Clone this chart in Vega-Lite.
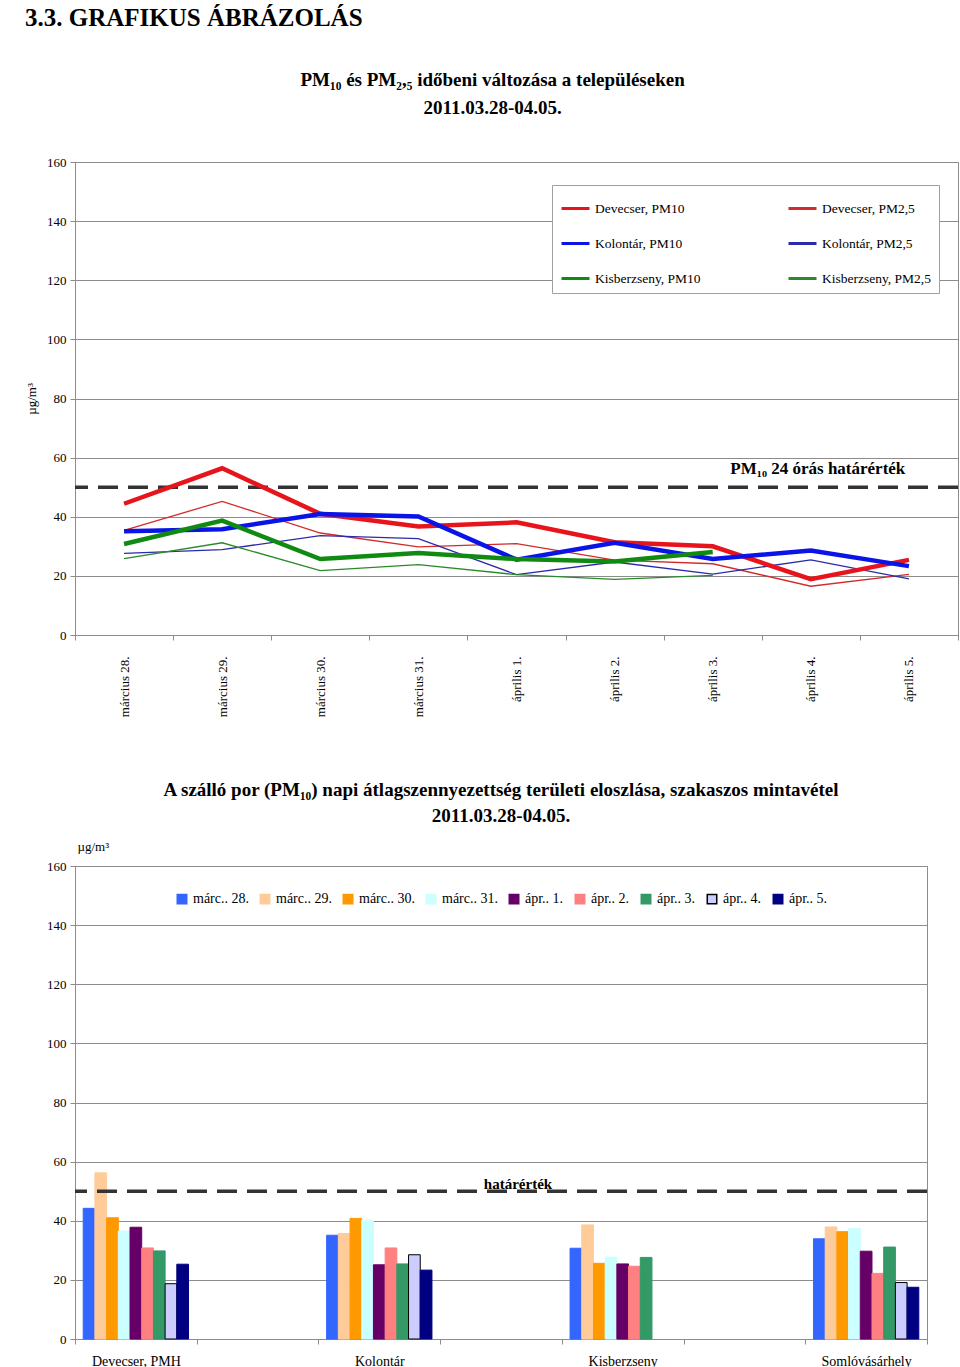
{
  "$schema": "https://vega.github.io/schema/vega-lite/v6.json",
  "background": "white",
  "padding": {"left": 25, "top": 5, "right": 0, "bottom": 0},
  "title": {"text": "3.3. GRAFIKUS ÁBRÁZOLÁS", "anchor": "start", "fontSize": 25, "fontWeight": "bold", "font": "Liberation Serif", "color": "black", "offset": 40},
  "config": {
    "view": {"stroke": "#8c8c8c"},
    "axis": {"labelFont": "Liberation Serif", "titleFont": "Liberation Serif", "labelColor": "black", "titleColor": "black", "labelFontSize": 13, "titleFontSize": 13, "titleFontWeight": "normal", "domainColor": "#8c8c8c", "tickColor": "#8c8c8c", "gridColor": "#8c8c8c", "tickSize": 5},
    "legend": {"labelFont": "Liberation Serif", "labelColor": "black"},
    "text": {"font": "Liberation Serif", "color": "black"},
    "title": {"font": "Liberation Serif", "color": "black"}
  },
  "datasets": {
    "lines": [
      {"series": "Devecser, PM10", "day": "március 28.", "value": 44.4},
      {"series": "Devecser, PM10", "day": "március 29.", "value": 56.4},
      {"series": "Devecser, PM10", "day": "március 30.", "value": 41.0},
      {"series": "Devecser, PM10", "day": "március 31.", "value": 36.7},
      {"series": "Devecser, PM10", "day": "április 1.", "value": 38.1},
      {"series": "Devecser, PM10", "day": "április 2.", "value": 31.4},
      {"series": "Devecser, PM10", "day": "április 3.", "value": 30.0},
      {"series": "Devecser, PM10", "day": "április 4.", "value": 18.9},
      {"series": "Devecser, PM10", "day": "április 5.", "value": 25.4},
      {"series": "Kolontár, PM10", "day": "március 28.", "value": 35.1},
      {"series": "Kolontár, PM10", "day": "március 29.", "value": 35.8},
      {"series": "Kolontár, PM10", "day": "március 30.", "value": 40.9},
      {"series": "Kolontár, PM10", "day": "március 31.", "value": 40.1},
      {"series": "Kolontár, PM10", "day": "április 1.", "value": 25.5},
      {"series": "Kolontár, PM10", "day": "április 2.", "value": 31.2},
      {"series": "Kolontár, PM10", "day": "április 3.", "value": 25.7},
      {"series": "Kolontár, PM10", "day": "április 4.", "value": 28.6},
      {"series": "Kolontár, PM10", "day": "április 5.", "value": 23.3},
      {"series": "Kisberzseny, PM10", "day": "március 28.", "value": 30.8},
      {"series": "Kisberzseny, PM10", "day": "március 29.", "value": 38.7},
      {"series": "Kisberzseny, PM10", "day": "március 30.", "value": 25.7},
      {"series": "Kisberzseny, PM10", "day": "március 31.", "value": 27.7},
      {"series": "Kisberzseny, PM10", "day": "április 1.", "value": 25.7},
      {"series": "Kisberzseny, PM10", "day": "április 2.", "value": 24.9},
      {"series": "Kisberzseny, PM10", "day": "április 3.", "value": 28.1},
      {"series": "Devecser, PM2,5", "day": "március 28.", "value": 35.4},
      {"series": "Devecser, PM2,5", "day": "március 29.", "value": 45.2},
      {"series": "Devecser, PM2,5", "day": "március 30.", "value": 34.5},
      {"series": "Devecser, PM2,5", "day": "március 31.", "value": 29.8},
      {"series": "Devecser, PM2,5", "day": "április 1.", "value": 30.9},
      {"series": "Devecser, PM2,5", "day": "április 2.", "value": 25.3},
      {"series": "Devecser, PM2,5", "day": "április 3.", "value": 24.1},
      {"series": "Devecser, PM2,5", "day": "április 4.", "value": 16.5},
      {"series": "Devecser, PM2,5", "day": "április 5.", "value": 20.5},
      {"series": "Kolontár, PM2,5", "day": "március 28.", "value": 27.6},
      {"series": "Kolontár, PM2,5", "day": "március 29.", "value": 28.9},
      {"series": "Kolontár, PM2,5", "day": "március 30.", "value": 33.6},
      {"series": "Kolontár, PM2,5", "day": "március 31.", "value": 32.6},
      {"series": "Kolontár, PM2,5", "day": "április 1.", "value": 20.4},
      {"series": "Kolontár, PM2,5", "day": "április 2.", "value": 24.7},
      {"series": "Kolontár, PM2,5", "day": "április 3.", "value": 20.6},
      {"series": "Kolontár, PM2,5", "day": "április 4.", "value": 25.4},
      {"series": "Kolontár, PM2,5", "day": "április 5.", "value": 19.0},
      {"series": "Kisberzseny, PM2,5", "day": "március 28.", "value": 25.8},
      {"series": "Kisberzseny, PM2,5", "day": "március 29.", "value": 31.2},
      {"series": "Kisberzseny, PM2,5", "day": "március 30.", "value": 21.8},
      {"series": "Kisberzseny, PM2,5", "day": "március 31.", "value": 23.8},
      {"series": "Kisberzseny, PM2,5", "day": "április 1.", "value": 20.4},
      {"series": "Kisberzseny, PM2,5", "day": "április 2.", "value": 18.8},
      {"series": "Kisberzseny, PM2,5", "day": "április 3.", "value": 20.2}
    ],
    "bars": [
      {"site": "Devecser, PMH", "day": "márc.. 28.", "value": 44.2},
      {"site": "Devecser, PMH", "day": "márc.. 29.", "value": 56.2},
      {"site": "Devecser, PMH", "day": "márc.. 30.", "value": 41.0},
      {"site": "Devecser, PMH", "day": "márc.. 31.", "value": 36.5},
      {"site": "Devecser, PMH", "day": "ápr.. 1.", "value": 37.8},
      {"site": "Devecser, PMH", "day": "ápr.. 2.", "value": 30.8},
      {"site": "Devecser, PMH", "day": "ápr.. 3.", "value": 29.8},
      {"site": "Devecser, PMH", "day": "ápr.. 4.", "value": 18.7},
      {"site": "Devecser, PMH", "day": "ápr.. 5.", "value": 25.3},
      {"site": "Kolontár", "day": "márc.. 28.", "value": 35.1},
      {"site": "Kolontár", "day": "márc.. 29.", "value": 35.7},
      {"site": "Kolontár", "day": "márc.. 30.", "value": 40.8},
      {"site": "Kolontár", "day": "márc.. 31.", "value": 40.2},
      {"site": "Kolontár", "day": "ápr.. 1.", "value": 25.1},
      {"site": "Kolontár", "day": "ápr.. 2.", "value": 30.8},
      {"site": "Kolontár", "day": "ápr.. 3.", "value": 25.4},
      {"site": "Kolontár", "day": "ápr.. 4.", "value": 28.5},
      {"site": "Kolontár", "day": "ápr.. 5.", "value": 23.3},
      {"site": "Kisberzseny", "day": "márc.. 28.", "value": 30.7},
      {"site": "Kisberzseny", "day": "márc.. 29.", "value": 38.6},
      {"site": "Kisberzseny", "day": "márc.. 30.", "value": 25.6},
      {"site": "Kisberzseny", "day": "márc.. 31.", "value": 27.7},
      {"site": "Kisberzseny", "day": "ápr.. 1.", "value": 25.4},
      {"site": "Kisberzseny", "day": "ápr.. 2.", "value": 24.6},
      {"site": "Kisberzseny", "day": "ápr.. 3.", "value": 27.6},
      {"site": "Somlóvásárhely", "day": "márc.. 28.", "value": 33.9},
      {"site": "Somlóvásárhely", "day": "márc.. 29.", "value": 37.9},
      {"site": "Somlóvásárhely", "day": "márc.. 30.", "value": 36.3},
      {"site": "Somlóvásárhely", "day": "márc.. 31.", "value": 37.4},
      {"site": "Somlóvásárhely", "day": "ápr.. 1.", "value": 29.7},
      {"site": "Somlóvásárhely", "day": "ápr.. 2.", "value": 22.2},
      {"site": "Somlóvásárhely", "day": "ápr.. 3.", "value": 31.1},
      {"site": "Somlóvásárhely", "day": "ápr.. 4.", "value": 19.1},
      {"site": "Somlóvásárhely", "day": "ápr.. 5.", "value": 17.5}
    ]
  },
  "spacing": 62,
  "resolve": {
    "scale": {"x": "independent", "y": "independent", "color": "independent", "stroke": "independent"},
    "legend": {"color": "independent", "stroke": "independent"}
  },
  "vconcat": [
    {
      "width": 883,
      "height": 473,
      "title": {"text": ["PM₁₀ és PM₂,₅ időbeni változása a településeken", "2011.03.28-04.05."], "fontSize": 19, "fontWeight": "bold", "lineHeight": 28, "offset": 38, "frame": "bounds"},
      "layer": [
        {
          "data": {"values": [{}]},
          "mark": {"type": "rule", "strokeDash": [20, 10], "strokeWidth": 3.5, "color": "#333333"},
          "encoding": {"y": {"datum": 50, "type": "quantitative", "scale": {"domain": [0, 160], "nice": false}}}
        },
        {
          "data": {"name": "lines"},
          "transform": [{"filter": "indexof(datum.series, 'PM2,5') >= 0"}],
          "mark": {"type": "line", "strokeWidth": 1.3},
          "encoding": {
            "x": {"field": "day", "type": "nominal", "bandPosition": 0.5, "sort": null,
              "scale": {"type": "band", "domain": ["március 28.", "március 29.", "március 30.", "március 31.", "április 1.", "április 2.", "április 3.", "április 4.", "április 5."], "paddingInner": 0, "paddingOuter": 0},
              "axis": {"title": null, "labelAngle": -90, "tickBand": "extent", "labelPadding": 16, "grid": false}},
            "y": {"field": "value", "type": "quantitative", "scale": {"domain": [0, 160], "nice": false},
              "axis": {"values": [0, 20, 40, 60, 80, 100, 120, 140, 160], "title": "µg/m³", "titlePadding": 8, "grid": true, "labelPadding": 4}},
            "color": {"field": "series", "type": "nominal",
              "scale": {"domain": ["Devecser, PM10", "Kolontár, PM10", "Kisberzseny, PM10", "Devecser, PM2,5", "Kolontár, PM2,5", "Kisberzseny, PM2,5"], "range": ["#e8141c", "#0a14e6", "#118a11", "#d42a2a", "#2a2aaa", "#2a8a2a"]},
              "legend": {"orient": "none", "legendX": 477, "legendY": 23, "columns": 2, "title": null, "symbolType": "stroke", "symbolSize": 784, "symbolStrokeWidth": 3, "labelFontSize": 13.5, "strokeColor": "#a0a0a0", "fillColor": "white", "padding": 8, "rowPadding": 13, "columnPadding": 81}}
          }
        },
        {
          "data": {"name": "lines"},
          "transform": [{"filter": "indexof(datum.series, 'PM10') >= 0"}],
          "mark": {"type": "line", "strokeWidth": 4.5},
          "encoding": {
            "x": {"field": "day", "type": "nominal", "bandPosition": 0.5, "sort": null},
            "y": {"field": "value", "type": "quantitative"},
            "color": {"field": "series", "type": "nominal"}
          }
        },
        {
          "data": {"values": [{}]},
          "mark": {"type": "text", "fontSize": 17, "fontWeight": "bold", "dy": -13, "dx": 7, "baseline": "alphabetic", "align": "center"},
          "encoding": {"x": {"datum": "április 4."}, "y": {"datum": 50}, "text": {"value": "PM₁₀ 24 órás határérték"}}
        }
      ]
    },
    {
      "width": 852,
      "height": 473,
      "title": {"text": ["A szálló por (PM₁₀) napi átlagszennyezettség területi eloszlása, szakaszos mintavétel", "2011.03.28-04.05."], "fontSize": 19, "fontWeight": "bold", "lineHeight": 26, "offset": 14},
      "layer": [
        {
          "data": {"name": "bars"},
          "mark": {"type": "bar", "strokeWidth": 1},
          "encoding": {
            "x": {"field": "site", "type": "nominal",
              "scale": {"domain": ["Devecser, PMH", " ", "Kolontár", "  ", "Kisberzseny", "   ", "Somlóvásárhely"], "paddingInner": 0, "paddingOuter": 0},
              "axis": {"title": null, "labelAngle": 0, "tickBand": "extent", "labelPadding": 10, "labelFontSize": 14}},
            "xOffset": {"field": "day", "type": "nominal", "sort": null,
              "scale": {"domain": ["márc.. 28.", "márc.. 29.", "márc.. 30.", "márc.. 31.", "ápr.. 1.", "ápr.. 2.", "ápr.. 3.", "ápr.. 4.", "ápr.. 5."], "paddingInner": 0, "paddingOuter": 0.7}},
            "y": {"field": "value", "type": "quantitative", "scale": {"domain": [0, 160], "nice": false},
              "axis": {"values": [0, 20, 40, 60, 80, 100, 120, 140, 160], "title": "µg/m³", "titleAngle": 0, "titleX": 2, "titleY": -16, "titleAlign": "left", "titleBaseline": "alphabetic", "grid": true, "labelPadding": 4}},
            "color": {"field": "day", "type": "nominal",
              "scale": {"domain": ["márc.. 28.", "márc.. 29.", "márc.. 30.", "márc.. 31.", "ápr.. 1.", "ápr.. 2.", "ápr.. 3.", "ápr.. 4.", "ápr.. 5."], "range": ["#3366ff", "#ffcc99", "#ff9900", "#ccffff", "#660066", "#ff8080", "#339966", "#ccccff", "#000080"]},
              "legend": {"orient": "none", "legendX": 100, "legendY": 26, "direction": "horizontal", "columns": 9, "title": null, "symbolType": "square", "symbolSize": 90, "labelFontSize": 14, "columnPadding": 8, "labelOffset": 4}},
            "stroke": {"field": "day", "type": "nominal",
              "scale": {"domain": ["márc.. 28.", "márc.. 29.", "márc.. 30.", "márc.. 31.", "ápr.. 1.", "ápr.. 2.", "ápr.. 3.", "ápr.. 4.", "ápr.. 5."], "range": ["#3366ff", "#ffcc99", "#ff9900", "#ccffff", "#660066", "#ff8080", "#339966", "#000000", "#000080"]},
              "legend": null}
          }
        },
        {
          "data": {"values": [{}]},
          "mark": {"type": "rule", "strokeDash": [20, 10], "strokeWidth": 3.5, "color": "#333333"},
          "encoding": {"y": {"datum": 50}}
        },
        {
          "data": {"values": [{}]},
          "mark": {"type": "text", "fontSize": 15, "fontWeight": "bold", "dy": -2, "dx": 17, "baseline": "alphabetic", "align": "center"},
          "encoding": {"x": {"datum": "  "}, "y": {"datum": 50}, "text": {"value": "határérték"}}
        }
      ]
    }
  ]
}
